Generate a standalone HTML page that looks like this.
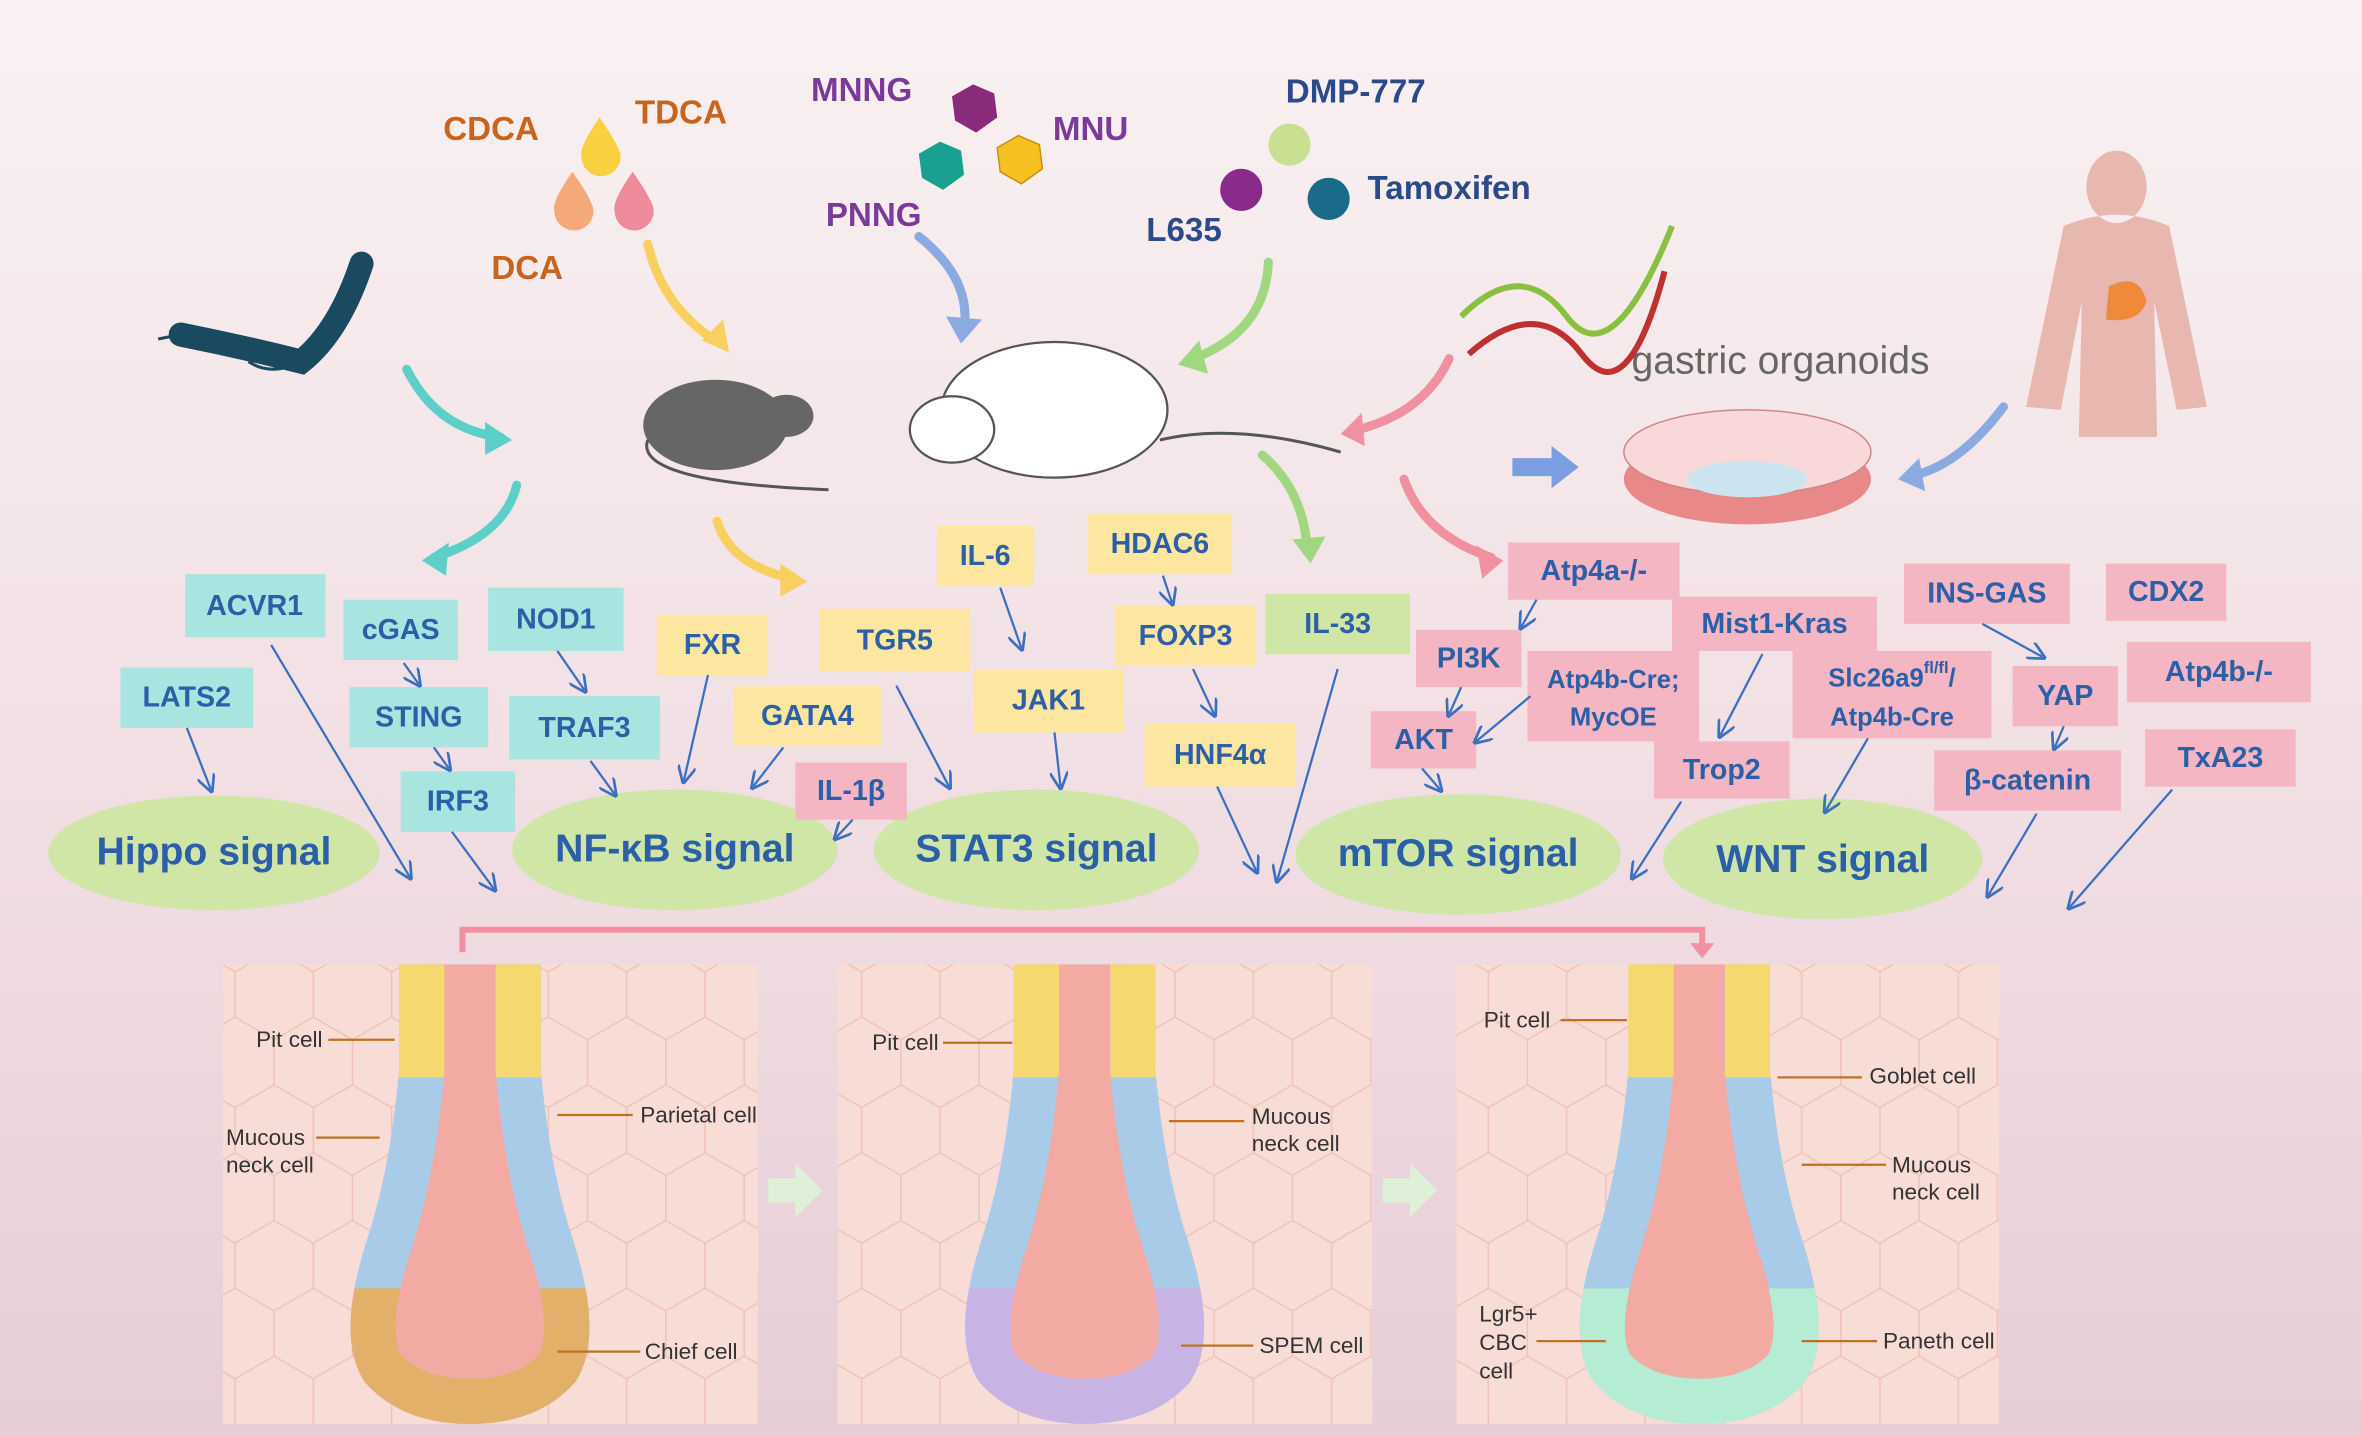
<!DOCTYPE html>
<html><head><meta charset="utf-8"><style>
html,body{margin:0;padding:0;width:2362px;height:1436px;overflow:hidden}
svg{display:block}
text{font-family:"Liberation Sans",sans-serif}
.b{font-size:19px;font-weight:bold;fill:#2b5fa8;text-anchor:middle;dominant-baseline:middle}
.s{font-size:26px;font-weight:bold;fill:#2b5fa8;text-anchor:middle;dominant-baseline:middle}
.l{font-size:15px;fill:#333}
.ln{stroke:#3b6fc0;stroke-width:1.5;fill:none;marker-end:url(#ar)}
</style></head><body>
<svg width="2362" height="1436" viewBox="0 0 1568 953" preserveAspectRatio="none" xmlns="http://www.w3.org/2000/svg">
<defs>
<linearGradient id="bg" x1="0" y1="0" x2="0" y2="1"><stop offset="0" stop-color="#f9f1f2"/><stop offset="0.6" stop-color="#f0dde2"/><stop offset="1" stop-color="#e6cdd6"/></linearGradient>
<marker id="ar" viewBox="0 0 10 10" refX="8" refY="5" markerWidth="8" markerHeight="8" orient="auto"><path d="M0 0L10 5L0 10" fill="none" stroke="#3b6fc0" stroke-width="1.5"/></marker>
<clipPath id="ctop"><rect x="-200" y="0" width="400" height="75"/></clipPath>
<clipPath id="cbot"><rect x="-200" y="215" width="400" height="120"/></clipPath>
<pattern id="hex" width="52" height="90" patternUnits="userSpaceOnUse"><path d="M0 15L26 0L52 15L52 45L26 60L0 45Z M26 60L26 90" fill="none" stroke="#f0c2b8" stroke-width="1"/></pattern>
<path id="gl" d="M -32 0 L -32 70 Q -38 140 -55 190 Q -72 245 -58 268 Q -38 290 0 290 Q 38 290 58 268 Q 72 245 55 190 Q 38 140 32 70 L 32 0"/>
</defs>
<rect width="1568" height="953" fill="url(#bg)"/>

<g font-size="22" font-weight="bold">
<text x="326" y="93" fill="#c8641e" text-anchor="middle">CDCA</text>
<text x="452" y="82" fill="#c8641e" text-anchor="middle">TDCA</text>
<text x="350" y="185" fill="#c8641e" text-anchor="middle">DCA</text>
<text x="572" y="67" fill="#7a3a9a" text-anchor="middle">MNNG</text>
<text x="724" y="93" fill="#7a3a9a" text-anchor="middle">MNU</text>
<text x="580" y="150" fill="#7a3a9a" text-anchor="middle">PNNG</text>
<text x="900" y="68" fill="#2a4a8a" text-anchor="middle">DMP-777</text>
<text x="962" y="132" fill="#2a4a8a" text-anchor="middle">Tamoxifen</text>
<text x="786" y="160" fill="#2a4a8a" text-anchor="middle">L635</text>
</g>
<text x="1182" y="248" font-size="26" fill="#666" text-anchor="middle">gastric organoids</text>
<path d="M398 78 Q384 98 386 104 A13 13 0 0 0 412 104 Q412 98 398 78Z" fill="#f9d040"/>
<path d="M380 114 Q366 134 368 140 A13 13 0 0 0 394 140 Q394 134 380 114Z" fill="#f5a878"/>
<path d="M420 114 Q406 134 408 140 A13 13 0 0 0 434 140 Q434 134 420 114Z" fill="#ee8a9a"/>
<polygon points="646,56 660,62 662,78 648,88 634,80 632,64" fill="#8a2a7a"/>
<polygon points="624,94 638,100 640,116 626,126 612,118 610,102" fill="#1aa090"/>
<polygon points="676,90 690,96 692,112 678,122 664,114 662,98" fill="#f5c020" stroke="#c89010"/>
<circle cx="856" cy="96" r="14" fill="#c8e090"/>
<circle cx="824" cy="126" r="14" fill="#8a2a8a"/>
<circle cx="882" cy="132" r="14" fill="#1a6a8a"/>
<path d="M120 222 Q160 230 200 240 Q225 220 240 175" stroke="#1a4a60" stroke-width="16" fill="none" stroke-linecap="round"/>
<path d="M120 222 L105 225 M200 240 Q180 250 165 240" stroke="#1a4a60" stroke-width="2" fill="none"/>
<ellipse cx="475" cy="282" rx="48" ry="30" fill="#666"/>
<ellipse cx="522" cy="276" rx="18" ry="14" fill="#666"/>
<path d="M430 292 Q420 320 550 325" stroke="#555" stroke-width="2" fill="none"/>
<ellipse cx="700" cy="272" rx="75" ry="45" fill="#fff" stroke="#555" stroke-width="1.5"/>
<ellipse cx="632" cy="285" rx="28" ry="22" fill="#fff" stroke="#555" stroke-width="1.5"/>
<path d="M770 292 Q820 280 890 300" stroke="#555" stroke-width="2" fill="none"/>
<path d="M970 210 Q1010 170 1040 210 T1110 150" stroke="#8ac040" stroke-width="4" fill="none"/>
<path d="M975 235 Q1020 195 1050 235 T1105 180" stroke="#c03030" stroke-width="4" fill="none"/>
<path d="M1405 100 a20 24 0 1 0 .1 0 M1370 150 Q1405 135 1440 150 L1465 270 L1445 272 L1430 200 L1432 290 L1380 290 L1382 200 L1368 272 L1345 270Z" fill="#e8b8b0"/>
<path d="M1400 190 Q1420 180 1425 200 Q1420 215 1398 212Z" fill="#f08a3a"/>
<ellipse cx="1160" cy="318" rx="82" ry="30" fill="#e88888"/>
<ellipse cx="1160" cy="300" rx="82" ry="28" fill="#f8d8d8" stroke="#c88" />
<ellipse cx="1160" cy="318" rx="40" ry="12" fill="#cce4f0"/>
<polygon points="1004,304 1030,304 1030,296 1048,310 1030,324 1030,316 1004,316" fill="#7a9ee0"/>

<g fill="none" stroke-width="6" stroke-linecap="round">
<path d="M270 245 Q290 285 332 290" stroke="#5cd0c8"/>
<path d="M343 322 Q335 355 288 370" stroke="#5cd0c8"/>
<path d="M430 162 Q440 205 478 228" stroke="#f8d060"/>
<path d="M476 346 Q485 375 526 384" stroke="#f8d060"/>
<path d="M610 157 Q645 185 640 218" stroke="#8aaae0"/>
<path d="M842 174 Q840 220 792 238" stroke="#a0d880"/>
<path d="M838 302 Q865 325 868 365" stroke="#a0d880"/>
<path d="M962 238 Q945 275 898 286" stroke="#f090a0"/>
<path d="M932 318 Q945 355 990 370" stroke="#f090a0"/>
<path d="M1330 270 Q1300 310 1268 316" stroke="#8aaae0"/>
</g>
<g>
<polygon points="340,292 322,280 322,302" fill="#5cd0c8"/>
<polygon points="280,372 298,360 296,382" fill="#5cd0c8"/>
<polygon points="484,234 466,226 480,212" fill="#f8d060"/>
<polygon points="536,386 518,374 518,396" fill="#f8d060"/>
<polygon points="638,228 628,210 652,212" fill="#8aaae0"/>
<polygon points="782,242 796,226 802,248" fill="#a0d880"/>
<polygon points="870,374 858,358 880,356" fill="#a0d880"/>
<polygon points="890,288 904,274 906,296" fill="#f090a0"/>
<polygon points="998,372 980,362 984,384" fill="#f090a0"/>
<polygon points="1260,318 1274,304 1278,326" fill="#8aaae0"/>
</g>

<g fill="#cfe6a6">
<ellipse cx="142" cy="566" rx="110" ry="38"/>
<ellipse cx="448" cy="564" rx="108" ry="40"/>
<ellipse cx="688" cy="564" rx="108" ry="40"/>
<ellipse cx="968" cy="567" rx="108" ry="40"/>
<ellipse cx="1210" cy="570" rx="106" ry="40"/>
</g>
<text class="s" x="142" y="567">Hippo signal</text>
<text class="s" x="448" y="565">NF-κB signal</text>
<text class="s" x="688" y="565">STAT3 signal</text>
<text class="s" x="968" y="568">mTOR signal</text>
<text class="s" x="1210" y="572">WNT signal</text>

<g fill="#a8e4e0">
<rect x="123" y="381" width="93" height="42"/><rect x="80" y="443" width="88" height="40"/>
<rect x="228" y="398" width="76" height="40"/><rect x="232" y="456" width="92" height="40"/>
<rect x="266" y="512" width="76" height="40"/><rect x="324" y="390" width="90" height="42"/>
<rect x="338" y="462" width="100" height="42"/>
</g>
<g fill="#fde7a0">
<rect x="436" y="408" width="74" height="40"/><rect x="544" y="404" width="100" height="42"/>
<rect x="487" y="455" width="98" height="40"/><rect x="622" y="349" width="64" height="40"/>
<rect x="646" y="444" width="100" height="42"/><rect x="722" y="341" width="96" height="40"/>
<rect x="740" y="402" width="94" height="40"/><rect x="760" y="480" width="100" height="42"/>
</g>
<rect x="840" y="394" width="96" height="40" fill="#cfe6a6"/>
<g fill="#f4b6c2">
<rect x="528" y="506" width="74" height="38"/><rect x="1001" y="360" width="114" height="38"/>
<rect x="940" y="418" width="70" height="38"/><rect x="910" y="472" width="70" height="38"/>
<rect x="1014" y="432" width="114" height="60"/><rect x="1110" y="396" width="136" height="36"/>
<rect x="1098" y="492" width="90" height="38"/><rect x="1190" y="432" width="132" height="58"/>
<rect x="1264" y="374" width="110" height="40"/><rect x="1398" y="374" width="80" height="38"/>
<rect x="1336" y="442" width="70" height="40"/><rect x="1412" y="426" width="122" height="40"/>
<rect x="1284" y="498" width="124" height="40"/><rect x="1424" y="484" width="100" height="38"/>
</g>
<g>
<text class="b" x="169" y="403">ACVR1</text><text class="b" x="124" y="464">LATS2</text>
<text class="b" x="266" y="419">cGAS</text><text class="b" x="278" y="477">STING</text>
<text class="b" x="304" y="533">IRF3</text><text class="b" x="369" y="412">NOD1</text>
<text class="b" x="388" y="484">TRAF3</text>
<text class="b" x="473" y="429">FXR</text><text class="b" x="594" y="426">TGR5</text>
<text class="b" x="536" y="476">GATA4</text><text class="b" x="654" y="370">IL-6</text>
<text class="b" x="696" y="466">JAK1</text><text class="b" x="770" y="362">HDAC6</text>
<text class="b" x="787" y="423">FOXP3</text><text class="b" x="810" y="502">HNF4α</text>
<text class="b" x="888" y="415">IL-33</text>
<text class="b" x="565" y="526">IL-1β</text><text class="b" x="1058" y="380">Atp4a-/-</text>
<text class="b" x="975" y="438">PI3K</text><text class="b" x="945" y="492">AKT</text>
<text class="b" x="1071" y="452" style="font-size:17px">Atp4b-Cre;</text><text class="b" x="1071" y="477" style="font-size:17px">MycOE</text>
<text class="b" x="1178" y="415">Mist1-Kras</text><text class="b" x="1143" y="512">Trop2</text>
<text class="b" x="1256" y="451" style="font-size:17px">Slc26a9<tspan font-size="11" dy="-7">fl/fl</tspan><tspan dy="7">/</tspan></text>
<text class="b" x="1256" y="477" style="font-size:17px">Atp4b-Cre</text>
<text class="b" x="1319" y="395">INS-GAS</text><text class="b" x="1438" y="394">CDX2</text>
<text class="b" x="1371" y="463">YAP</text><text class="b" x="1473" y="447">Atp4b-/-</text>
<text class="b" x="1346" y="519">β-catenin</text><text class="b" x="1474" y="504">TxA23</text>
</g>

<g>
<path class="ln" d="M124 483L140 524"/><path class="ln" d="M180 428L272 582"/>
<path class="ln" d="M268 440L278 454"/><path class="ln" d="M288 496L298 510"/>
<path class="ln" d="M300 552L328 590"/><path class="ln" d="M370 432L388 458"/>
<path class="ln" d="M392 505L408 527"/><path class="ln" d="M470 448L454 518"/>
<path class="ln" d="M520 496L500 522"/><path class="ln" d="M566 544L555 556"/>
<path class="ln" d="M595 455L630 522"/><path class="ln" d="M664 390L678 430"/>
<path class="ln" d="M700 486L704 522"/><path class="ln" d="M772 382L778 400"/>
<path class="ln" d="M792 444L806 474"/><path class="ln" d="M808 522L834 578"/>
<path class="ln" d="M888 444L848 584"/><path class="ln" d="M1020 398L1010 416"/>
<path class="ln" d="M970 456L962 474"/><path class="ln" d="M1016 462L980 492"/>
<path class="ln" d="M944 510L956 524"/><path class="ln" d="M1170 434L1142 488"/>
<path class="ln" d="M1116 532L1084 582"/><path class="ln" d="M1240 490L1212 538"/>
<path class="ln" d="M1316 414L1356 436"/><path class="ln" d="M1370 482L1364 496"/>
<path class="ln" d="M1352 540L1320 594"/><path class="ln" d="M1442 524L1374 602"/>
</g>

<path d="M307 632L307 617L1130 617L1130 628" stroke="#f090a0" stroke-width="4" fill="none"/>
<polygon points="1122,626 1138,626 1130,636" fill="#f090a0"/>

<g>
<rect x="148" y="640" width="355" height="305" fill="#f8ddd6"/><rect x="148" y="640" width="355" height="305" fill="url(#hex)"/>
<rect x="556" y="640" width="355" height="305" fill="#f8ddd6"/><rect x="556" y="640" width="355" height="305" fill="url(#hex)"/>
<rect x="967" y="640" width="360" height="305" fill="#f8ddd6"/><rect x="967" y="640" width="360" height="305" fill="url(#hex)"/>
</g>
<polygon points="510,782 528,782 528,772 546,790 528,808 528,798 510,798" fill="#dff0d8"/>
<polygon points="918,782 936,782 936,772 954,790 936,808 936,798 918,798" fill="#dff0d8"/>

<g transform="translate(312,640)">
<path d="M-32 0 L-32 70 Q-38 140 -55 190 Q-72 245 -58 268 Q-38 290 0 290 Q38 290 58 268 Q72 245 55 190 Q38 140 32 70 L32 0Z" fill="#f2aaa2"/>
<use href="#gl" fill="none" stroke="#a8cce8" stroke-width="30"/>
<use href="#gl" fill="none" stroke="#f6d870" stroke-width="30" clip-path="url(#ctop)"/>
<use href="#gl" fill="none" stroke="#e2b068" stroke-width="30" clip-path="url(#cbot)"/>
</g>
<g transform="translate(720,640)">
<path d="M-32 0 L-32 70 Q-38 140 -55 190 Q-72 245 -58 268 Q-38 290 0 290 Q38 290 58 268 Q72 245 55 190 Q38 140 32 70 L32 0Z" fill="#f2aaa2"/>
<use href="#gl" fill="none" stroke="#a8cce8" stroke-width="30"/>
<use href="#gl" fill="none" stroke="#f6d870" stroke-width="30" clip-path="url(#ctop)"/>
<use href="#gl" fill="none" stroke="#c8b4e4" stroke-width="30" clip-path="url(#cbot)"/>
</g>
<g transform="translate(1128,640)">
<path d="M-32 0 L-32 70 Q-38 140 -55 190 Q-72 245 -58 268 Q-38 290 0 290 Q38 290 58 268 Q72 245 55 190 Q38 140 32 70 L32 0Z" fill="#f2aaa2"/>
<use href="#gl" fill="none" stroke="#a8cce8" stroke-width="30"/>
<use href="#gl" fill="none" stroke="#f6d870" stroke-width="30" clip-path="url(#ctop)"/>
<use href="#gl" fill="none" stroke="#b4ecd4" stroke-width="30" clip-path="url(#cbot)"/>
</g>

<g stroke="#c07020" stroke-width="1.5">
<path d="M218 690L262 690"/><path d="M210 755L252 755"/><path d="M370 740L420 740"/><path d="M370 897L425 897"/>
<path d="M626 692L672 692"/><path d="M776 744L826 744"/><path d="M784 893L832 893"/>
<path d="M1036 677L1080 677"/><path d="M1180 715L1236 715"/><path d="M1196 773L1252 773"/><path d="M1020 890L1066 890"/><path d="M1196 890L1246 890"/>
</g>
<g>
<text class="l" x="170" y="695">Pit cell</text>
<text class="l" x="150" y="760">Mucous</text><text class="l" x="150" y="778">neck cell</text>
<text class="l" x="425" y="745">Parietal cell</text>
<text class="l" x="428" y="902">Chief cell</text>
<text class="l" x="579" y="697">Pit cell</text>
<text class="l" x="831" y="746">Mucous</text><text class="l" x="831" y="764">neck cell</text>
<text class="l" x="836" y="898">SPEM cell</text>
<text class="l" x="985" y="682">Pit cell</text>
<text class="l" x="1241" y="719">Goblet cell</text>
<text class="l" x="1256" y="778">Mucous</text><text class="l" x="1256" y="796">neck cell</text>
<text class="l" x="982" y="877">Lgr5+</text><text class="l" x="982" y="896">CBC</text><text class="l" x="982" y="915">cell</text>
<text class="l" x="1250" y="895">Paneth cell</text>
</g>
</svg>
</body></html>
